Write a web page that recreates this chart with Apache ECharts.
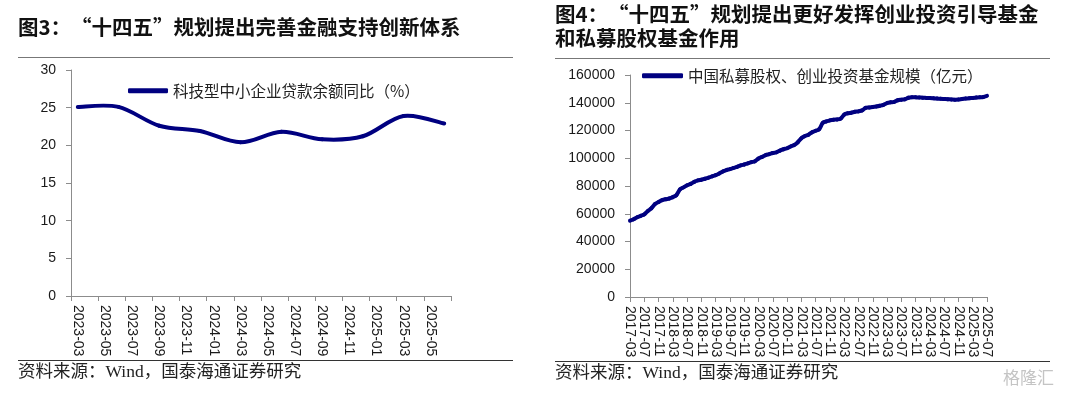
<!DOCTYPE html>
<html>
<head>
<meta charset="utf-8">
<script src="https://cdn.jsdelivr.net/npm/echarts@6/dist/echarts.min.js"></script>
<style>
  html, body { margin: 0; padding: 0; background: #fff; }
  #chart { width: 1080px; height: 399px; }
</style>
</head>
<body>
<div id="chart"></div>
<script>
// 图3：科技型中小企业贷款余额同比（%），季度数据放在月度类目轴上
const loanMonths = [
  '2023-03', '2023-04', '2023-05', '2023-06', '2023-07', '2023-08', '2023-09', '2023-10',
  '2023-11', '2023-12', '2024-01', '2024-02', '2024-03', '2024-04', '2024-05', '2024-06',
  '2024-07', '2024-08', '2024-09', '2024-10', '2024-11', '2024-12', '2025-01', '2025-02',
  '2025-03', '2025-04', '2025-05', '2025-06'
];
const loanQuarters = ['2023-03', '2023-06', '2023-09', '2023-12', '2024-03', '2024-06', '2024-09', '2024-12', '2025-03', '2025-06'];
const loanYoY = [25.1, 25.1, 22.6, 21.9, 20.4, 21.8, 20.8, 21.2, 23.9, 22.9];
const loanTicks = [0, 5, 10, 15, 20, 25, 30];

// 图4：中国私募股权、创业投资基金规模（亿元），月度
const fundMonths = [];
for (let y = 2017; y <= 2025; y++) {
  for (let m = 1; m <= 12; m++) {
    const s = y + '-' + (m < 10 ? '0' + m : m);
    if (s >= '2017-03' && s <= '2025-07') fundMonths.push(s);
  }
}
const fundSize = [
  // 2017-03 ~ 2017-12
  55000, 56000, 57500, 58500, 59500, 62000, 64000, 67000, 68500, 69800,
  // 2018
  70500, 71000, 72000, 73500, 77500, 79000, 80500, 81500, 83000, 84000, 84500, 85200,
  // 2019
  86000, 87000, 87800, 89000, 90500, 91500, 92200, 93000, 93800, 94800, 95500, 96300,
  // 2020
  97200, 97800, 99800, 101000, 102300, 103000, 103800, 104300, 105500, 106500, 107200, 108500,
  // 2021
  109500, 111500, 114500, 116000, 117000, 118800, 119800, 121000, 125500, 126500, 127300, 127800,
  // 2022
  128000, 128500, 131500, 132400, 132800, 133500, 133800, 134500, 136300, 136600, 137000, 137300,
  // 2023
  137800, 138500, 139800, 140300, 140600, 141800, 142200, 142500, 143600, 144000, 143900, 143800,
  // 2024
  143600, 143500, 143400, 143200, 143000, 142900, 142700, 142500, 142400, 142200, 142300, 142700,
  // 2025-01 ~ 2025-07
  143000, 143200, 143500, 143700, 143900, 144200, 145000
];
const fundTicks = [0, 20000, 40000, 60000, 80000, 100000, 120000, 140000, 160000];

const navy = '#000080';
const axisGrey = '#8c8c8c';
const numFont = "'Liberation Sans', Arial, sans-serif";
const cjkFont = "'Noto Sans CJK SC', sans-serif";
const srcFont = "'Liberation Serif', 'Noto Sans CJK SC', serif";

// 类似 Excel 平滑线：用坐标轴换算出的像素点画 Catmull-Rom 贝塞尔曲线
function smoothLine(points) {
  return function (params, api) {
    if (params.dataIndex !== 0) return null;
    const p = points.map(function (d) { return api.coord(d); });
    const children = [];
    for (let i = 0; i < p.length - 1; i++) {
      const p0 = p[i - 1] || p[i];
      const p1 = p[i];
      const p2 = p[i + 1];
      const p3 = p[i + 2] || p[i + 1];
      children.push({
        type: 'bezierCurve',
        shape: {
          x1: p1[0], y1: p1[1],
          cpx1: p1[0] + (p2[0] - p0[0]) / 6, cpy1: p1[1] + (p2[1] - p0[1]) / 6,
          cpx2: p2[0] - (p3[0] - p1[0]) / 6, cpy2: p2[1] - (p3[1] - p1[1]) / 6,
          x2: p2[0], y2: p2[1]
        },
        style: { stroke: navy, lineWidth: 4, fill: null, lineCap: 'round' }
      });
    }
    return { type: 'group', children: children };
  };
}

const loanPoints = loanQuarters.map(function (q, i) { return [loanMonths.indexOf(q), loanYoY[i]]; });
const fundPoints = fundSize.map(function (v, i) { return [i, v]; });

let myChart = echarts.init(document.getElementById('chart'));

const axisCommon = {
  axisLine: { show: true, lineStyle: { color: axisGrey, width: 1 } },
  axisTick: { show: true, inside: false, length: 5, lineStyle: { color: axisGrey } },
  splitLine: { show: false }
};

myChart.setOption({
  animation: false,
  grid: [
    { left: 71, top: 70, width: 380, height: 226 },
    { left: 630, top: 75, width: 357, height: 222 }
  ],
  legend: [
    {
      left: 128, top: 83, padding: 0,
      icon: 'roundRect', itemWidth: 40, itemHeight: 5,
      textStyle: { fontFamily: cjkFont, fontSize: 15.5, color: '#222' },
      data: ['科技型中小企业贷款余额同比（%）']
    },
    {
      left: 642, top: 68, padding: 0,
      icon: 'roundRect', itemWidth: 41, itemHeight: 5,
      textStyle: { fontFamily: cjkFont, fontSize: 15.5, color: '#222' },
      data: ['中国私募股权、创业投资基金规模（亿元）']
    }
  ],
  xAxis: [
    {
      gridIndex: 0,
      type: 'category',
      data: loanMonths,
      boundaryGap: true,
      ...axisCommon,
      axisTick: { show: true, length: 5, interval: 1, lineStyle: { color: axisGrey } },
      axisLabel: {
        interval: 1, rotate: -90, margin: 9,
        fontFamily: numFont, fontSize: 14, color: '#1a1a1a'
      }
    },
    {
      gridIndex: 1,
      type: 'category',
      data: fundMonths,
      boundaryGap: false,
      ...axisCommon,
      axisTick: { show: true, length: 5, interval: 3, lineStyle: { color: axisGrey } },
      axisLabel: {
        interval: 3, rotate: -90, margin: 9,
        fontFamily: numFont, fontSize: 14, color: '#1a1a1a'
      }
    }
  ],
  yAxis: [
    {
      gridIndex: 0,
      type: 'value',
      min: loanTicks[0], max: loanTicks[loanTicks.length - 1], interval: 5,
      ...axisCommon,
      axisLabel: { margin: 15, fontFamily: numFont, fontSize: 14, color: '#1a1a1a' }
    },
    {
      gridIndex: 1,
      type: 'value',
      min: fundTicks[0], max: fundTicks[fundTicks.length - 1], interval: 20000,
      ...axisCommon,
      axisLabel: {
        margin: 15, fontFamily: numFont, fontSize: 14, color: '#1a1a1a',
        formatter: function (v) { return String(v); }
      }
    }
  ],
  series: [
    {
      name: '科技型中小企业贷款余额同比（%）',
      type: 'custom',
      xAxisIndex: 0, yAxisIndex: 0,
      data: loanPoints,
      encode: { x: 0, y: 1 },
      itemStyle: { color: navy },
      renderItem: smoothLine(loanPoints)
    },
    {
      name: '中国私募股权、创业投资基金规模（亿元）',
      type: 'custom',
      xAxisIndex: 1, yAxisIndex: 1,
      data: fundPoints,
      encode: { x: 0, y: 1 },
      itemStyle: { color: navy },
      renderItem: smoothLine(fundPoints)
    }
  ],
  graphic: [
    // 标题
    {
      type: 'text', left: 18, top: 17,
      style: { text: '图3：“十四五”规划提出完善金融支持创新体系', font: 'bold 20.5px ' + cjkFont, fill: '#111' }
    },
    {
      type: 'text', left: 555, top: 4,
      style: { text: '图4：“十四五”规划提出更好发挥创业投资引导基金', font: 'bold 20.5px ' + cjkFont, fill: '#111' }
    },
    {
      type: 'text', left: 555, top: 28,
      style: { text: '和私募股权基金作用', font: 'bold 20.5px ' + cjkFont, fill: '#111' }
    },
    // 分隔线
    { type: 'line', shape: { x1: 18, y1: 57.5, x2: 513, y2: 57.5 }, style: { stroke: '#777', lineWidth: 1 } },
    { type: 'line', shape: { x1: 555, y1: 58.5, x2: 1050, y2: 58.5 }, style: { stroke: '#777', lineWidth: 1 } },
    { type: 'line', shape: { x1: 18, y1: 360.5, x2: 513, y2: 360.5 }, style: { stroke: '#333', lineWidth: 1 } },
    { type: 'line', shape: { x1: 555, y1: 361.5, x2: 1050, y2: 361.5 }, style: { stroke: '#333', lineWidth: 1 } },
    // 资料来源
    {
      type: 'text', left: 18, top: 364,
      style: { text: '资料来源：Wind，国泰海通证券研究', font: '17.5px ' + srcFont, fill: '#222' }
    },
    {
      type: 'text', left: 555, top: 365,
      style: { text: '资料来源：Wind，国泰海通证券研究', font: '17.5px ' + srcFont, fill: '#222' }
    },
    // 水印
    {
      type: 'text', left: 1003, top: 369,
      style: { text: '格隆汇', font: '17px ' + cjkFont, fill: '#c4c4c4' }
    }
  ]
});

window.onresize = function () {
  myChart.resize();
};
</script>
</body>
</html>
